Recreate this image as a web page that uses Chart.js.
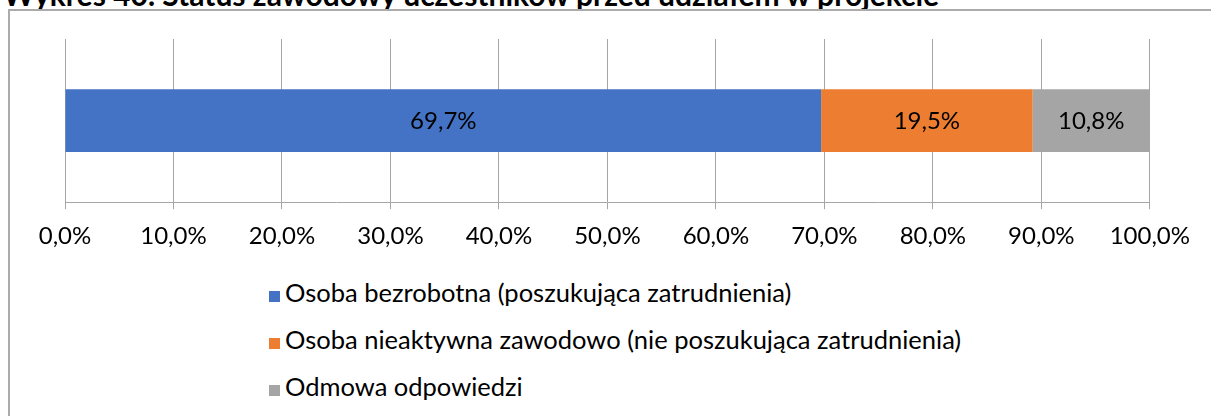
<!DOCTYPE html>
<html lang="pl">
<head>
<meta charset="utf-8">
<script src="https://cdn.jsdelivr.net/npm/chart.js@4.4.1/dist/chart.umd.min.js"></script>
<style>
  body { margin: 0; width: 1211px; height: 416px; overflow: hidden; background: #fff; position: relative; font-family: Lato, sans-serif; }
  #title { position: absolute; left: 3px; top: -21px; font-size: 30px; font-weight: bold; line-height: 1; white-space: nowrap; color: #000; }
  #frame { position: absolute; left: 8px; top: 9px; width: 1300px; height: 500px; border-left: 2px solid #ababab; border-top: 2px solid #ababab; }
  #wrap { position: absolute; left: 0; top: 0; width: 1203px; height: 270px; }
  #legend { position: absolute; left: 269px; top: 277px; }
  .item { height: 47px; display: flex; align-items: flex-start; font-size: 25.5px; line-height: 30px; color: #000; }
  .box { width: 11px; height: 11px; margin-top: 14px; margin-right: 5px; }
</style>
</head>
<body>
<div id="title">Wykres 40. Status zawodowy uczestników przed udziałem w projekcie</div>
<div id="frame"></div>
<div id="wrap"><canvas id="statusChart"></canvas></div>
<div id="legend"></div>
<script>
// single stacked bar: share of participants by employment status (%)
const categories = [''];
const seriesNames = [
    'Osoba bezrobotna (poszukująca zatrudnienia)',
    'Osoba nieaktywna zawodowo (nie poszukująca zatrudnienia)',
    'Odmowa odpowiedzi'
];
const unemployed = [69.7];
const inactive = [19.5];
const refused = [10.8];
const seriesColors = ['#4472C4', '#ED7D31', '#A5A5A5'];
const xTicks = [0, 10, 20, 30, 40, 50, 60, 70, 80, 90, 100];

const fmt = v => v.toFixed(1).replace('.', ',') + '%';

// writes the value in the middle of each bar segment
const barLabels = {
    id: 'barLabels',
    afterDatasetsDraw(chart) {
        const ctx = chart.ctx;
        ctx.save();
        ctx.font = '24px Lato';
        ctx.fillStyle = '#000';
        ctx.textAlign = 'center';
        ctx.textBaseline = 'middle';
        chart.data.datasets.forEach((ds, i) => {
            chart.getDatasetMeta(i).data.forEach((bar, j) => {
                const p = bar.getCenterPoint();
                ctx.fillText(fmt(ds.data[j]), p.x, p.y + 1);
            });
        });
        ctx.restore();
    }
};

const datasets = [unemployed, inactive, refused].map((values, i) => ({
    label: seriesNames[i],
    data: values,
    backgroundColor: seriesColors[i],
    categoryPercentage: 0.385,
    barPercentage: 1
}));

new Chart(document.getElementById('statusChart'), {
    type: 'bar',
    data: { labels: categories, datasets: datasets },
    options: {
        indexAxis: 'y',
        responsive: true,
        maintainAspectRatio: false,
        animation: false,
        layout: { padding: { left: 65, right: 10, top: 39, bottom: 6 } },
        plugins: { legend: { display: false }, tooltip: { enabled: false } },
        scales: {
            x: {
                stacked: true,
                min: 0,
                max: 100,
                afterBuildTicks: axis => { axis.ticks = xTicks.map(v => ({ value: v })); },
                ticks: {
                    callback: v => fmt(v),
                    font: { family: 'Lato', size: 24 },
                    color: '#000',
                    padding: 13,
                    maxRotation: 0
                },
                grid: { color: '#a6a6a6', lineWidth: 1, tickLength: 7 },
                border: { color: '#a6a6a6', width: 1 }
            },
            y: { stacked: true, display: false }
        }
    },
    plugins: [barLabels]
});

// legend in a column below the chart
const legend = document.getElementById('legend');
seriesNames.forEach((name, i) => {
    const row = document.createElement('div');
    row.className = 'item';
    row.innerHTML = `<span class="box" style="background:${seriesColors[i]}"></span><span>${name}</span>`;
    legend.appendChild(row);
});
</script>
</body>
</html>
